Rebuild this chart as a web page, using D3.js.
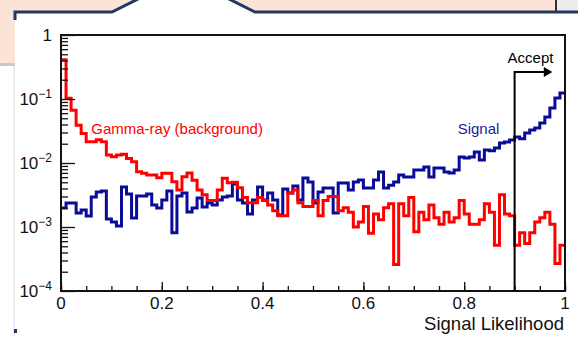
<!DOCTYPE html>
<html>
<head>
<meta charset="utf-8">
<script src="https://cdn.jsdelivr.net/npm/d3@7"></script>
<style>
  body { margin: 0; background: #fff; }
  svg { display: block; font-family: "Liberation Sans", Arial, sans-serif; }
</style>
</head>
<body>
<div id="chart"></div>
<script>

// Gamma-ray (background) histogram, 100 bins over [0,1]
var gammaCounts = [
  0.41, 0.103, 0.067, 0.039, 0.029, 0.0215, 0.0215, 0.023, 0.0215, 0.0133,
  0.0125, 0.0133, 0.0137, 0.0118, 0.0105, 0.0073, 0.0069, 0.0065, 0.0065, 0.0059,
  0.0069, 0.0069, 0.0051, 0.0038, 0.0061, 0.0070, 0.0054, 0.0038, 0.0032, 0.0026,
  0.0026, 0.0038, 0.0058, 0.0049, 0.0050, 0.0041, 0.0029, 0.0024, 0.0024, 0.0029,
  0.0026, 0.0022, 0.0018, 0.0015, 0.0015, 0.0034, 0.0038, 0.0024, 0.0021, 0.0021,
  0.0026, 0.0015, 0.0026, 0.0030, 0.0030, 0.0018, 0.0020, 0.0017, 0.0010, 0.0012,
  0.0021, 0.0008, 0.0016, 0.0013, 0.0020, 0.0023, 0.00026, 0.0023, 0.0015, 0.0029,
  0.00084, 0.0017, 0.0013, 0.0022, 0.0014, 0.0011, 0.0017, 0.0012, 0.0014, 0.0026,
  0.0016, 0.0011, 0.0011, 0.0013, 0.0023, 0.0017, 0.00052, 0.0032, 0.0016, 0.0015,
  0.00052, 0.00081, 0.00055, 0.00081, 0.0012, 0.0014, 0.0017, 0.0011, 0.00027, 0.00052
];

// Signal histogram, same binning
var signalCounts = [
  0.00198, 0.00237, 0.00237, 0.00166, 0.00184, 0.00149, 0.00294, 0.00352, 0.00365, 0.00133,
  0.0012, 0.00104, 0.00422, 0.00328, 0.00138, 0.00305, 0.00305, 0.00328, 0.00221, 0.00198,
  0.00264, 0.00365, 0.00081, 0.00305, 0.0034, 0.00172, 0.00198, 0.00284, 0.00205, 0.00237,
  0.00221, 0.00264, 0.00294, 0.00305, 0.0047, 0.00264, 0.00237, 0.0016, 0.00264, 0.00422,
  0.00264, 0.0034, 0.00264, 0.00154, 0.00393, 0.0034, 0.00437, 0.00264, 0.00583, 0.00505,
  0.00237, 0.00352, 0.00407, 0.00407, 0.00166, 0.00487, 0.00487, 0.00379, 0.00505, 0.00543,
  0.00407, 0.00407, 0.00543, 0.00724, 0.00407, 0.0045, 0.00505, 0.0065, 0.00604, 0.00604,
  0.00778, 0.00778, 0.00866, 0.00604, 0.00835, 0.00835, 0.00724, 0.00698, 0.00778, 0.0124,
  0.012, 0.0124, 0.0149, 0.0111, 0.016, 0.0155, 0.0172, 0.0205, 0.0213, 0.0229,
  0.0255, 0.024, 0.0294, 0.0328, 0.0352, 0.0422, 0.0523, 0.0724, 0.104, 0.124
];

var xTicks = [0, 0.2, 0.4, 0.6, 0.8, 1];
var xTickLabels = ["0", "0.2", "0.4", "0.6", "0.8", "1"];
var yDecades = [1e-4, 1e-3, 1e-2, 1e-1, 1];
var yDecadeExp = ["\u22124", "\u22123", "\u22122", "\u22121", null];
var acceptCut = 0.9;

var W = 578, H = 337;
var svg = d3.select("#chart").append("svg")
    .attr("width", W)
    .attr("height", H);

// ---- slide decoration around the plot ----
svg.append("rect").attr("x", 0).attr("y", 0).attr("width", 556).attr("height", 11).attr("fill", "#fbe4d5");
svg.append("rect").attr("x", 0).attr("y", 0).attr("width", 15).attr("height", 63).attr("fill", "#fbe4d5");
svg.append("rect").attr("x", 0).attr("y", 63).attr("width", 15).attr("height", 3).attr("fill", "#c9c9c9");
svg.append("rect").attr("x", 556).attr("y", 0).attr("width", 22).attr("height", 11).attr("fill", "#ececec");
svg.append("line").attr("x1", 556).attr("x2", 556).attr("y1", 0).attr("y2", 11)
    .attr("stroke", "#333").attr("stroke-width", 2);
svg.append("line").attr("x1", 14).attr("x2", 14).attr("y1", 66).attr("y2", H)
    .attr("stroke", "#d8d8e8").attr("stroke-width", 1);
// white tab
svg.append("path")
    .attr("d", "M112,12 L140,-2 L227,-2 L255,12 Z")
    .attr("fill", "#fff");
svg.append("path")
    .attr("d", "M15,20 L15,12 L112,12 L140,-2 M227,-2 L255,12 L578,12")
    .attr("fill", "none")
    .attr("stroke", "#1f3864")
    .attr("stroke-width", 3);
svg.append("rect").attr("x", 14).attr("y", 329).attr("width", 3).attr("height", 4).attr("fill", "#1f3864");

// ---- scales ----
var x = d3.scaleLinear().domain([0, 1]).range([61, 565]);
var y = d3.scaleLog().domain([1e-4, 1]).range([291, 35]);

var nBins = gammaCounts.length;

function stepPoints(counts) {
    var pts = counts.map(function(v, i) { return {x: i / nBins, v: v}; });
    pts.push({x: 1, v: counts[counts.length - 1]});
    return pts;
}

var line = d3.line()
    .x(function(d) { return x(d.x); })
    .y(function(d) { return y(d.v); })
    .curve(d3.curveStepAfter);

// histograms
svg.append("path")
    .datum(stepPoints(signalCounts))
    .attr("fill", "none")
    .attr("stroke", "#0b0b9a")
    .attr("stroke-width", 3)
    .attr("d", line);

svg.append("path")
    .datum(stepPoints(gammaCounts))
    .attr("fill", "none")
    .attr("stroke", "#ff0000")
    .attr("stroke-width", 3)
    .attr("d", line);

// ---- axes ----
var yMinor = [];
yDecades.slice(0, -1).forEach(function(d) {
    for (var k = 2; k <= 9; k++) yMinor.push(k * d);
});
var xMinor = d3.range(0, 21).map(function(i) { return i / 20; });

svg.append("g")
    .attr("transform", "translate(" + x(0) + ",0)")
    .call(d3.axisLeft(y).tickValues(yMinor).tickSize(-7).tickFormat(""))
    .call(function(g) { g.selectAll("line").attr("stroke", "#111").attr("stroke-width", 1.3); })
    .select(".domain").remove();

svg.append("g")
    .attr("transform", "translate(" + x(0) + ",0)")
    .call(d3.axisLeft(y).tickValues(yDecades).tickSize(-14).tickFormat(""))
    .call(function(g) { g.selectAll("line").attr("stroke", "#111").attr("stroke-width", 1.3); })
    .select(".domain").remove();

svg.append("g")
    .attr("transform", "translate(0," + y(1e-4) + ")")
    .call(d3.axisBottom(x).tickValues(xMinor).tickSize(-5).tickFormat(""))
    .call(function(g) { g.selectAll("line").attr("stroke", "#111").attr("stroke-width", 1.3); })
    .select(".domain").remove();

svg.append("g")
    .attr("transform", "translate(0," + y(1e-4) + ")")
    .call(d3.axisBottom(x).tickValues(xTicks).tickSize(-9).tickFormat(""))
    .call(function(g) { g.selectAll("line").attr("stroke", "#111").attr("stroke-width", 1.3); })
    .select(".domain").remove();

// frame
svg.append("rect")
    .attr("x", x(0))
    .attr("y", y(1))
    .attr("width", x(1) - x(0))
    .attr("height", y(1e-4) - y(1))
    .attr("fill", "none")
    .attr("stroke", "#111")
    .attr("stroke-width", 2);

// x tick labels
svg.selectAll(".xlab")
    .data(xTicks)
    .enter().append("text")
    .attr("x", function(d) { return x(d); })
    .attr("y", y(1e-4) + 18)
    .attr("text-anchor", "middle")
    .attr("font-size", 17)
    .attr("fill", "#111")
    .text(function(d, i) { return xTickLabels[i]; });

// y tick labels
yDecades.forEach(function(d, i) {
    var t = svg.append("text")
        .attr("x", x(0) - 9)
        .attr("y", y(d) + 6)
        .attr("text-anchor", "end")
        .attr("font-size", 17)
        .attr("fill", "#111");
    if (yDecadeExp[i] === null) {
        t.text("1");
    } else {
        t.append("tspan").text("10");
        t.append("tspan").attr("dy", -7).attr("font-size", 12).text(yDecadeExp[i]);
    }
});

// axis title
svg.append("text")
    .attr("x", x(1) - 1)
    .attr("y", 330)
    .attr("text-anchor", "end")
    .attr("font-size", 18.5)
    .attr("fill", "#111")
    .text("Signal Likelihood");

// labels
svg.append("text")
    .attr("x", x(0.06))
    .attr("y", 134)
    .attr("font-size", 15)
    .attr("fill", "#ff0000")
    .text("Gamma-ray (background)");

svg.append("text")
    .attr("x", x(0.787))
    .attr("y", 134)
    .attr("font-size", 15)
    .attr("fill", "#1a1aa6")
    .text("Signal");

// accept cut with arrow
svg.append("path")
    .attr("d", "M" + x(acceptCut) + "," + y(1e-4) + " L" + x(acceptCut) + "," + y(0.265) + " L" + x(0.962) + "," + y(0.265))
    .attr("fill", "none")
    .attr("stroke", "#000")
    .attr("stroke-width", 2);

svg.append("path")
    .attr("d", "M" + x(0.958) + "," + (y(0.265) - 5) + " L" + x(0.975) + "," + y(0.265) + " L" + x(0.958) + "," + (y(0.265) + 5) + " Z")
    .attr("fill", "#000");

svg.append("text")
    .attr("x", x(0.886))
    .attr("y", 63)
    .attr("font-size", 15)
    .attr("fill", "#000")
    .text("Accept");

</script>
</body>
</html>
